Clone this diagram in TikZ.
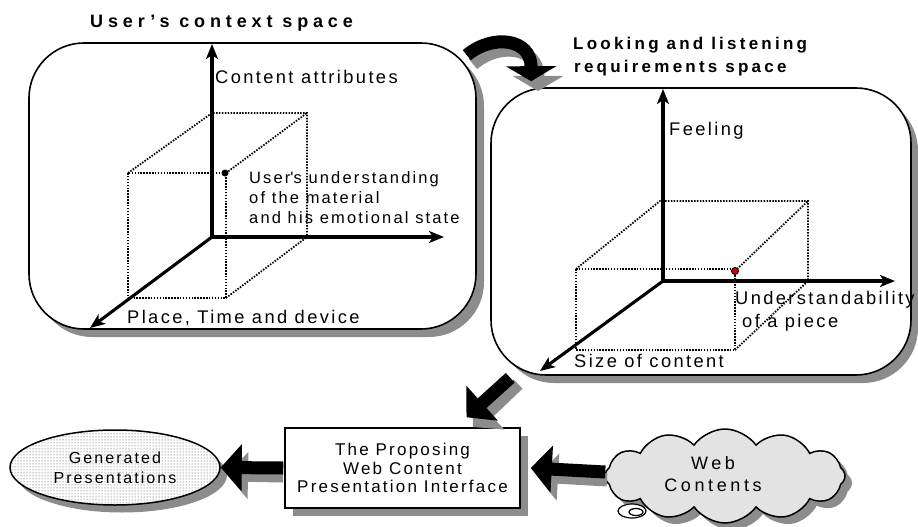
\documentclass[tikz,border=0pt]{standalone}
\usepackage{fontspec}
\setmainfont{Liberation Sans}
\newfontfamily\labfont[LetterSpace=13]{Liberation Sans}
\newfontfamily\ttlfont[LetterSpace=27]{Liberation Sans}
\newfontfamily\subfont[LetterSpace=19]{Liberation Sans}
\newfontfamily\cloudfont[LetterSpace=20]{Liberation Sans}
\usetikzlibrary{arrows.meta,shapes.symbols,shapes.geometric,patterns,calc}
\definecolor{shadowgray}{RGB}{140,140,140}
\begin{document}
\begin{tikzpicture}[x=1pt,y=-1pt,
  panelshape/.style={rounded corners=55pt},
  panel/.style={panelshape,draw,line width=1.6pt,fill=white},
  axis/.style={line width=3.1pt,-{Stealth[length=15pt,width=12pt,inset=4pt]}},
  cubeline/.style={line width=1.8pt,dash pattern=on 1.5pt off 1.4pt},
  bigarrow/.style={line width=13pt,-{Triangle[length=21pt,width=46pt]}},
  curvearrow/.style={line width=13pt,-{Triangle[length=15pt,width=50pt]}},
  lab/.style={anchor=base west,inner sep=0pt,font=\labfont\fontsize{18.3}{20}\selectfont},
  smalllab/.style={anchor=base west,inner sep=0pt,font=\labfont\fontsize{16.5}{20}\selectfont},
  ttl/.style={anchor=base west,inner sep=0pt,font=\ttlfont\bfseries\fontsize{18}{20}\selectfont},
  subttl/.style={anchor=base west,inner sep=0pt,font=\subfont\bfseries\fontsize{17}{22}\selectfont},
  ibox/.style={draw,line width=1.5pt,fill=white,minimum width=235pt,minimum height=80pt,
    align=center,inner sep=0pt,font=\labfont\fontsize{17}{18.5}\selectfont},
  gen/.style={ellipse,draw,line width=1.5pt,minimum width=210pt,minimum height=75pt,
    preaction={fill=white},pattern=dots,pattern color=black!75,
    align=center,inner sep=0pt,font=\labfont\fontsize{16}{20}\selectfont},
  cloudshape/.style={cloud,cloud puffs=12,cloud puff arc=110,aspect=2.5,
    minimum width=240pt,minimum height=94pt,inner sep=0pt},
  cloudnode/.style={cloudshape,draw,line width=1.5pt,fill=gray!22},
  cloudtext/.style={align=center,inner sep=0pt,font=\cloudfont\fontsize{18}{22}\selectfont},
  dot/.style={circle,fill=black,inner sep=0pt,minimum size=7pt},
  reddot/.style={circle,draw=black,line width=0.9pt,fill=red!85!black,inner sep=0pt,minimum size=7pt}
]
\useasboundingbox (0,0) rectangle (918,527);

% shadows of the boxes, offset down and to the right
\fill[color=shadowgray,rounded corners=55pt] (37,51) -- (484,51) -- (484,337) -- (37,337) -- cycle;
\fill[color=shadowgray,rounded corners=55pt] (499,96) -- (918,96) -- (918,383) -- (499,383) -- cycle;
\fill[color=shadowgray] (293,436) -- (528,436) -- (528,516) -- (293,516) -- cycle;
\fill[color=shadowgray] (122,475) circle [x radius=105pt,y radius=37.5pt];
\node[cloudshape,fill=shadowgray] (webshadow) at (732,483) {};

% the two spaces
\node[panel,minimum width=447pt,minimum height=286pt] (lp) at (252.5,186) {};
\node[panel,minimum width=420pt,minimum height=287pt] (rp) at (701,231.5) {};

% titles
\node[ttl] (t1) at (90,28) {User’s context space};
\node[subttl] (t2a) at (573,50) {Looking and listening};
\node[subttl] (t2b) at (574,72) {requirements space};

% user's context space: axes and cube
\coordinate (lo) at (212,237);
\coordinate (lup) at (212,44);
\coordinate (lright) at (444,237);
\coordinate (ldiag) at (90,328);
\draw[cubeline] (128,173) -- (212,113) -- (307,113) -- (307,237);
\draw[cubeline] (226,173) -- (307,113);
\draw[cubeline] (128,173) rectangle (226,298);
\draw[cubeline] (226,298) -- (307,237);
\draw[axis] (lo) -- (lup);
\draw[axis] (lo) -- (lright);
\draw[axis] (lo) -- (ldiag);
\node[dot] (ldot) at (225,173) {};
\node[lab] (la1) at (215,84) {Content attributes};
\node[smalllab] (la2) at (249,183) {User\textquotesingle s understanding};
\node[smalllab] (la3) at (249,203) {of the material};
\node[smalllab] (la4) at (249,223) {and his emotional state};
\node[lab] (la5) at (127,323) {Place, Time and device};

% looking and listening requirements space: axes and cube
\coordinate (ro) at (663,281);
\coordinate (rup) at (663,89);
\coordinate (rright) at (895,281);
\coordinate (rdiag) at (540,371);
\draw[cubeline] (576,269) -- (660,201) -- (808,201) -- (808,281);
\draw[cubeline] (735,271) -- (808,201);
\draw[cubeline] (576,269) rectangle (735,350);
\draw[cubeline] (735,350) -- (808,281);
\draw[axis] (ro) -- (rup);
\draw[axis] (ro) -- (rright);
\draw[axis] (ro) -- (rdiag);
\node[reddot] (rdot) at (735,271) {};
\node[lab] (ra1) at (669,135) {Feeling};
\node[lab] (ra2) at (735,304) {Understandability};
\node[lab] (ra3) at (742,327) {of a piece};
\node[lab] (ra4) at (574,367) {Size of content};

% bottom row
\node[ibox] (iface) at (402.5,468) {The Proposing\\Web Content\\Presentation Interface};
\node[gen] (gen) at (115,467.5) {Generated\\Presentations};
\node[cloudnode] (web) at (725,476) {};
\node[cloudtext] (webtxt) at (713,474) {Web\\Contents};
\draw[line width=1.2pt,fill=white] (632,511) ellipse [x radius=14pt,y radius=7pt];
\draw[line width=1.2pt] (636,512) ellipse [x radius=7pt,y radius=3.5pt];

% end points of the block arrows and of their shadows
\coordinate (c1) at ($(lp.north east)+(-10,13)$);
\coordinate (c2) at ($(rp.north west)+(41,-6)$);
\coordinate (d1) at ($(rp.south west)+(20,2)$);
\coordinate (d2) at ($(iface.north)+(64,-10)$);
\coordinate (w1) at ($(web.west)+(1,-4)$);
\coordinate (w2) at ($(iface.east)+(10,0)$);
\coordinate (g1) at ($(iface.west)+(-1,0)$);
\coordinate (g2) at (gen.east);
\coordinate (sc1) at (473,64);
\coordinate (sc2) at (538,91);
\coordinate (sd1) at (518,384);
\coordinate (sd2) at (473,427);
\coordinate (sg1) at (283,476);
\coordinate (sg2) at (227,475);
\coordinate (sw1) at (607,480);
\coordinate (sw2) at (537,476);

% shadows of the block arrows
\draw[curvearrow,color=shadowgray] (sc1) .. controls (499,42) and (538,46) .. (sc2);
\draw[bigarrow,color=shadowgray] (sd1) -- (sd2);
\draw[bigarrow,color=shadowgray] (sg1) -- (sg2);
\draw[bigarrow,color=shadowgray] (sw1) -- (sw2);
% block arrows
\draw[curvearrow] (c1) .. controls (492,34) and (531,38) .. (c2);
\draw[bigarrow] (d1) -- (d2);
\draw[bigarrow] (g1) -- (g2);
\draw[bigarrow] (w1) -- (w2);
\end{tikzpicture}
\end{document}
